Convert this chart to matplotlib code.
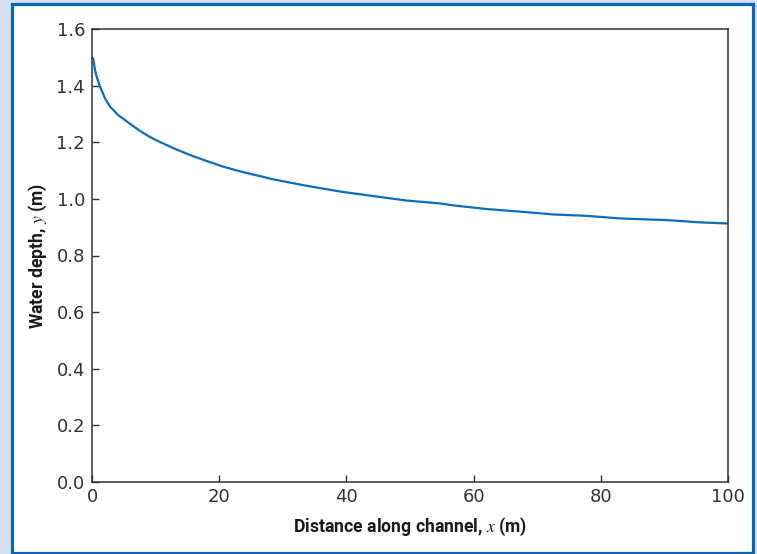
#!/usr/bin/env python3
"""Water depth profile along a channel."""

import matplotlib
matplotlib.use("Agg")
import matplotlib.pyplot as plt
from matplotlib.patches import Rectangle

# values
distance_m = [0.0, 0.2, 0.31, 0.47, 0.74, 1.0, 1.26, 1.78, 2.04, 2.83, 3.35,
              4.1, 4.93, 5.97, 7.55, 8.85, 10.2, 12.8, 15.4, 18.0,
              20.6, 23.3, 28.5, 33.8, 39.0, 44.2, 49.5, 54.7, 56.8, 62.1,
              67.3, 72.5, 77.8, 83.0, 90.4, 95.6, 100.0]
depth_m = [1.50, 1.495, 1.479, 1.455, 1.432, 1.414, 1.396, 1.370, 1.355, 1.326,
           1.314, 1.296, 1.283, 1.265, 1.240, 1.222, 1.206, 1.179, 1.155,
           1.134, 1.114, 1.097, 1.069, 1.046, 1.026, 1.010, 0.994, 0.984, 0.977,
           0.964, 0.955, 0.945, 0.940, 0.931, 0.925, 0.917, 0.913]
x_ticks = [0, 20, 40, 60, 80, 100]
y_ticks = [0.0, 0.2, 0.4, 0.6, 0.8, 1.0, 1.2, 1.4, 1.6]

W, H = 757, 554
plt.rcParams["mathtext.fontset"] = "stix"

fig = plt.figure(figsize=(W / 100, H / 100), dpi=100, facecolor="#d6dff0")
frame = Rectangle((11.5 / W, 1 - 552.5 / H), (753 - 11.5) / W, (552.5 - 3.5) / H,
                  transform=fig.transFigure, facecolor="white",
                  edgecolor="#0a64b4", linewidth=2.3, zorder=-5)
fig.patches.append(frame)

ax = fig.add_axes([92 / W, 1 - 482 / H, (728 - 92) / W, (482 - 29) / H])
ax.set_facecolor("none")
ax.plot(distance_m, depth_m, color="#0a6ebd", linewidth=1.6)

ax.set_xlim(0, 100)
ax.set_ylim(0, 1.6)
ax.set_xticks(x_ticks)
ax.set_yticks(y_ticks)
ax.set_yticklabels([f"{v:.1f}" for v in y_ticks])
ax.tick_params(direction="in", length=5, width=1, color="#333333",
               labelsize=13, labelcolor="#333333", pad=5)
ax.tick_params(axis="x", pad=4)
for s in ax.spines.values():
    s.set_color("#333333")
    s.set_linewidth(1.1)

lab = dict(family=["Roboto", "DejaVu Sans"], fontweight="bold",
           fontsize=12.7, color="#1a1a1a")
ax.set_xlabel(r"Distance along channel, $\mathit{x}$ (m)", labelpad=7, **lab)
ax.set_ylabel(r"Water depth, $\mathit{y}$ (m)", labelpad=5, **lab)

fig.savefig("out.png", dpi=100, facecolor=fig.get_facecolor())
